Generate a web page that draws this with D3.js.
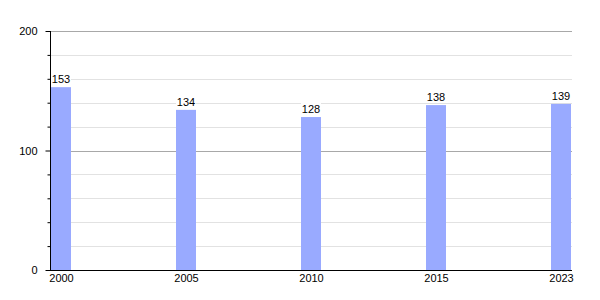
<!DOCTYPE html>
<html>
<head>
<meta charset="utf-8">
<script src="https://cdn.jsdelivr.net/npm/d3@7"></script>
<style>
  body { margin: 0; background: #fff; }
  text { font-family: "Liberation Sans", Arial, sans-serif; font-size: 11px; fill: #000; }
</style>
</head>
<body>
<script>
var years = ["2000", "2005", "2010", "2015", "2023"];
var values = [153, 134, 128, 138, 139];
var majorTicks = [0, 100, 200];
var minorTicks = [20, 40, 60, 80, 120, 140, 160, 180];

var width = 600, height = 300,
    margin = {top: 31, right: 28, bottom: 30, left: 50};

var svg = d3.select("body").append("svg")
    .attr("width", width)
    .attr("height", height);

var x = d3.scalePoint()
    .domain(years)
    .range([margin.left + 11, width - margin.right - 11]);

var y = d3.scaleLinear()
    .domain([0, 200])
    .range([height - margin.bottom, margin.top]);

var barW = 20;

// minor grid
svg.append("g").selectAll("line")
    .data(minorTicks)
    .enter().append("line")
    .attr("x1", margin.left).attr("x2", width - margin.right)
    .attr("y1", function(d) { return Math.round(y(d)) + 0.5; })
    .attr("y2", function(d) { return Math.round(y(d)) + 0.5; })
    .style("stroke", "#e2e2e2");

// major grid
svg.append("g").selectAll("line")
    .data(majorTicks.slice(1))
    .enter().append("line")
    .attr("x1", margin.left).attr("x2", width - margin.right)
    .attr("y1", function(d) { return Math.round(y(d)) + 0.5; })
    .attr("y2", function(d) { return Math.round(y(d)) + 0.5; })
    .style("stroke", "#a8a8a8");

// bars
svg.append("g").selectAll("rect")
    .data(values)
    .enter().append("rect")
    .attr("x", function(d, i) { return x(years[i]) - barW / 2; })
    .attr("y", function(d) { return y(d); })
    .attr("width", barW)
    .attr("height", function(d) { return y(0) - y(d); })
    .style("fill", "#99aaff");

// value labels with white background
var lab = svg.append("g").selectAll("g")
    .data(values)
    .enter().append("g")
    .attr("transform", function(d, i) { return "translate(" + x(years[i]) + "," + (y(d) - 4) + ")"; });
lab.append("rect")
    .attr("x", -10).attr("y", -10).attr("width", 20).attr("height", 11)
    .style("fill", "#fff");
lab.append("text")
    .attr("text-anchor", "middle")
    .text(function(d) { return d; });

// y axis
var yAxisMinor = d3.axisLeft(y).tickValues(minorTicks).tickSize(3).tickFormat("");
svg.append("g")
    .attr("transform", "translate(" + (margin.left + 0.5) + ",0)")
    .call(yAxisMinor)
    .call(function(g) { g.select(".domain").remove(); });

var yAxis = d3.axisLeft(y).tickValues(majorTicks).tickSize(5).tickPadding(8);
svg.append("g")
    .attr("transform", "translate(" + (margin.left + 0.5) + ",0)")
    .call(yAxis)
    .call(function(g) {
        g.select(".domain").attr("d", "M0," + y(200) + "V" + y(0));
        g.selectAll("text").style("font-size", "11px").style("font-family", "Liberation Sans, Arial, sans-serif");
    });

// x axis
var xAxis = d3.axisBottom(x).tickSize(0).tickPadding(4);
svg.append("g")
    .attr("transform", "translate(0," + (Math.round(y(0)) + 0.5) + ")")
    .call(xAxis)
    .call(function(g) {
        g.select(".domain").attr("d", "M" + margin.left + ",0H" + (width - margin.right));
        g.selectAll("text").style("font-size", "11px").style("font-family", "Liberation Sans, Arial, sans-serif");
    });
</script>
</body>
</html>
